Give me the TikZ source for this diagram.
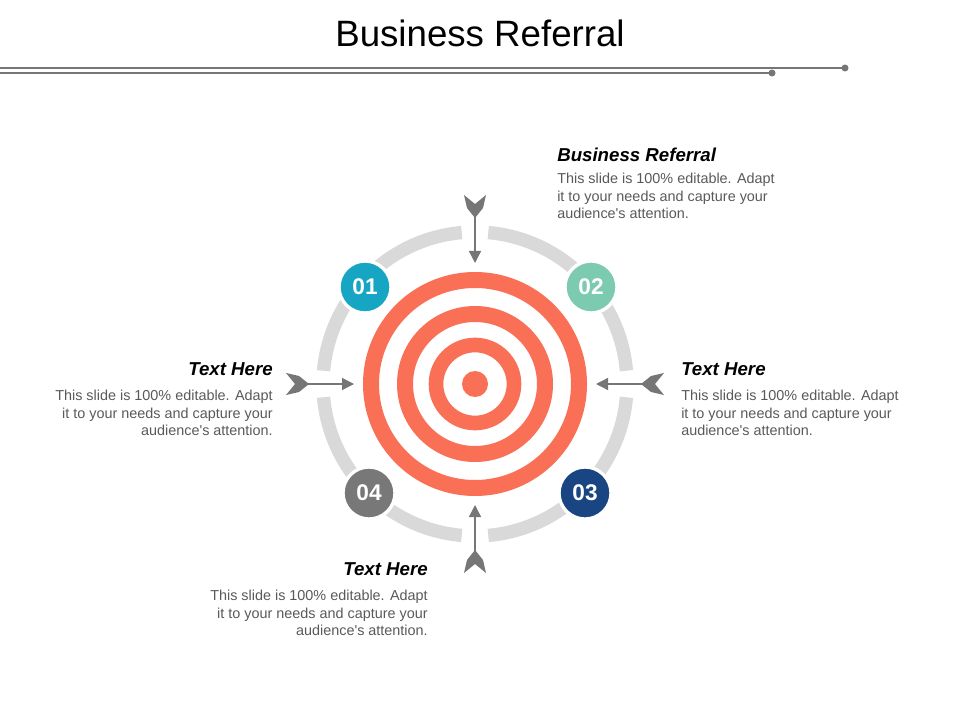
\documentclass[tikz,border=0pt]{standalone}
\usepackage{fontspec}
\setmainfont{Liberation Sans}
\usetikzlibrary{positioning, arrows.meta}
\definecolor{ringgray}{RGB}{217,217,217}
\definecolor{targetred}{RGB}{250,112,86}
\definecolor{arrowgray}{RGB}{118,118,118}
\definecolor{textgray}{RGB}{89,89,89}
\definecolor{cteal}{RGB}{22,166,196}
\definecolor{cmint}{RGB}{124,203,177}
\definecolor{cnavy}{RGB}{25,69,131}
\definecolor{cgray}{RGB}{120,120,120}
\tikzset{
    badge/.style={
        circle,
        draw=white,
        line width=2.5pt,
        minimum size=39pt,
        inner sep=0pt,
        text=white,
        font=\bfseries\fontsize{17}{17}\selectfont
    },
    headtext/.style={
        font=\bfseries\itshape\fontsize{14}{16}\selectfont,
        inner sep=0pt
    },
    bodytext/.style={
        font=\fontsize{10.8}{13.2}\selectfont,
        text=textgray,
        inner sep=0pt
    },
    shaft/.style={
        -{Triangle[length=9pt,width=9pt]},
        arrowgray,
        line width=1pt
    }
}
\newcommand{\fillertext}{This slide is 100\% editable. Adapt\\it to your needs and capture your\\audience\textquotesingle s attention.}
\begin{document}
\begin{tikzpicture}[x=0.75pt, y=-0.75pt]

\useasboundingbox (0,0) rectangle (960,720);

% ---------------------------------------------------------
% Title
% ---------------------------------------------------------

\node[font=\fontsize{27.5}{27.5}\selectfont] (title) at (480,33) {Business Referral};

\coordinate (lineA) at (0,68);
\coordinate (dotA) at (845,68);
\coordinate (lineB) at (0,73);
\coordinate (dotB) at (772,73);
\draw[arrowgray, line width=1.2pt] (lineA) -- (dotA);
\draw[arrowgray, line width=1.2pt] (lineB) -- (dotB);
\fill[arrowgray] (dotA) circle (3.5) (dotB) circle (3.5);

% ---------------------------------------------------------
% Target
% ---------------------------------------------------------

\coordinate (ctr) at (475,384);

% gray ring with gaps at the arrows
\foreach \a in {0,90,180,270}
    \draw[ringgray, line width=10pt] ([shift={(\a+5:152)}]ctr) arc[start angle=\a+5, end angle=\a+85, radius=152];

\draw[targetred, line width=12pt] (ctr) circle (104);
\draw[targetred, line width=12pt] (ctr) circle (70);
\draw[targetred, line width=11pt] (ctr) circle (39);
\fill[targetred] (ctr) circle (13);

% ---------------------------------------------------------
% Arrows
% ---------------------------------------------------------

\foreach \a/\n in {90/top, 180/left, 0/right, 270/bottom}{
    \begin{scope}[shift={(ctr)}, rotate=\a]
        \coordinate (tail-\n) at (170,0);
        \coordinate (head-\n) at (121,0);
        \fill[arrowgray] (189,-11) -- (180,0) -- (189,11) -- (176,8) -- (166,0) -- (176,-8) -- cycle;
    \end{scope}
    \draw[shaft] (tail-\n) -- (head-\n);
}

% ---------------------------------------------------------
% Badges
% ---------------------------------------------------------

\node[badge, fill=cteal] (one) at (365,287) {01};
\node[badge, fill=cmint] (two) at (591,287) {02};
\node[badge, fill=cnavy] (three) at (585,493) {03};
\node[badge, fill=cgray] (four) at (369,493) {04};

% ---------------------------------------------------------
% Texts
% ---------------------------------------------------------

\node[headtext, anchor=west] (hTop) at (557,155) {Business Referral};
\node[bodytext, anchor=north west, align=left] (bTop) at (557,173) {\fillertext};

\node[headtext, anchor=east] (hLeft) at (273,369) {Text Here};
\node[bodytext, anchor=north east, align=right] (bLeft) at (273,390) {\fillertext};

\node[headtext, anchor=west] (hRight) at (681,369) {Text Here};
\node[bodytext, anchor=north west, align=left] (bRight) at (681,390) {\fillertext};

\node[headtext, anchor=east] (hBottom) at (428,569) {Text Here};
\node[bodytext, anchor=north east, align=right] (bBottom) at (428,590) {\fillertext};

\end{tikzpicture}
\end{document}
